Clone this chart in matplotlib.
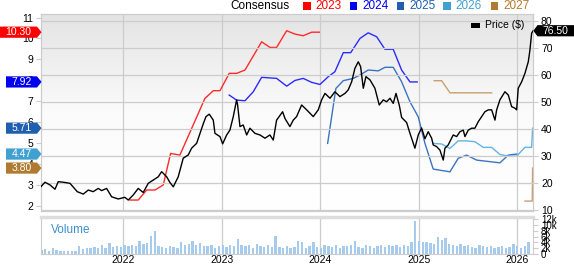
import numpy as np
import matplotlib
matplotlib.use('Agg')
import matplotlib.pyplot as plt
from matplotlib.colors import LinearSegmentedColormap
from matplotlib.patches import Rectangle, Polygon

plt.rcParams['font.family'] = ['Liberation Sans', 'DejaVu Sans']

# Price ($), decimal year -> close
price_t = [2021.164, 2021.205, 2021.256, 2021.307, 2021.340, 2021.391, 2021.459, 2021.533,
           2021.594, 2021.645, 2021.695, 2021.746, 2021.781, 2021.831, 2021.882, 2021.949,
           2022.017, 2022.051, 2022.102, 2022.152, 2022.203, 2022.254, 2022.305, 2022.355,
           2022.390, 2022.441, 2022.474, 2022.508, 2022.558, 2022.609, 2022.660, 2022.694,
           2022.745, 2022.779, 2022.812, 2022.840, 2022.873, 2022.914, 2022.931, 2022.982,
           2023.009, 2023.050, 2023.083, 2023.117, 2023.151, 2023.161, 2023.185, 2023.218,
           2023.253, 2023.286, 2023.337, 2023.388, 2023.439, 2023.489, 2023.523, 2023.557,
           2023.618, 2023.642, 2023.692, 2023.726, 2023.760, 2023.811, 2023.862, 2023.929,
           2023.980, 2024.014, 2024.048, 2024.099, 2024.149, 2024.200, 2024.251, 2024.284,
           2024.319, 2024.352, 2024.386, 2024.410, 2024.437, 2024.464, 2024.505, 2024.555,
           2024.599, 2024.640, 2024.674, 2024.708, 2024.741, 2024.769, 2024.802, 2024.826,
           2024.877, 2024.911, 2024.961, 2024.995, 2025.029, 2025.063, 2025.096, 2025.131,
           2025.147, 2025.181, 2025.215, 2025.249, 2025.266, 2025.299, 2025.334, 2025.350,
           2025.385, 2025.418, 2025.452, 2025.469, 2025.503, 2025.537, 2025.570, 2025.604,
           2025.639, 2025.672, 2025.706, 2025.740, 2025.774, 2025.791, 2025.824, 2025.875,
           2025.909, 2025.943, 2025.977, 2025.994, 2026.010, 2026.045, 2026.078, 2026.112,
           2026.129, 2026.146, 2026.162]
price = [18.7, 20.4, 19.4, 17.8, 20.6, 20.4, 20.0, 16.9,
         16.0, 17.5, 16.9, 18.1, 17.3, 18.1, 15.0, 14.2,
         14.8, 13.8, 15.7, 18.1, 16.6, 20.0, 21.2, 22.4,
         24.3, 22.4, 20.3, 18.7, 22.4, 29.3, 30.5, 33.0,
         34.8, 38.5, 42.0, 44.7, 45.6, 43.4, 38.5, 37.3,
         34.6, 37.9, 39.7, 44.7, 50.9, 49.0, 41.0, 41.6,
         37.9, 40.4, 38.5, 37.9, 36.7, 37.9, 36.0, 43.4,
         46.5, 44.0, 41.0, 43.4, 44.7, 49.0, 47.2, 44.7,
         47.2, 50.9, 53.3, 51.5, 53.9, 52.1, 53.3, 54.6,
         57.6, 62.6, 65.0, 63.2, 55.2, 59.5, 58.3, 55.2,
         49.0, 50.9, 50.2, 51.5, 49.6, 53.3, 49.0, 44.4,
         42.5, 38.5, 33.0, 37.9, 40.5, 36.5, 39.1, 36.7,
         34.2, 33.6, 32.3, 28.6, 33.0, 34.2, 36.7, 37.9,
         37.3, 39.1, 39.7, 37.3, 39.7, 40.4, 40.4, 42.8,
         44.7, 46.5, 47.2, 47.2, 43.4, 47.2, 50.9, 53.9,
         52.7, 48.4, 47.8, 47.2, 55.2, 57.6, 60.7, 65.0,
         69.4, 75.6, 76.5]

# Consensus EPS estimates by fiscal year
eps23_t = [2022.068, 2022.152, 2022.238, 2022.322, 2022.406, 2022.481, 2022.575, 2022.829,
           2022.914, 2022.982, 2023.076, 2023.151, 2023.236, 2023.405, 2023.489, 2023.557,
           2023.659, 2023.743, 2023.827, 2023.913, 2023.990]
eps23 = [2.27, 2.27, 2.75, 2.75, 2.99, 4.50, 4.42, 7.13,
         7.50, 7.50, 8.33, 8.33, 8.49, 9.84, 9.57, 9.57,
         10.37, 10.21, 10.13, 10.30, 10.30]

eps24_t = [2023.076, 2023.151, 2023.236, 2023.320, 2023.405, 2023.557, 2023.659, 2023.743,
           2023.827, 2023.913, 2023.997, 2024.081, 2024.149, 2024.234, 2024.309, 2024.403,
           2024.487, 2024.573, 2024.657, 2024.741, 2024.826, 2024.911, 2024.985]
eps24 = [7.29, 7.05, 7.02, 7.45, 8.14, 8.09, 7.72, 7.99,
         8.09, 7.90, 7.80, 8.17, 8.41, 9.32, 9.32, 10.00,
         10.27, 10.08, 9.48, 9.48, 8.49, 7.92, 7.92]

eps25_t = [2024.075, 2024.159, 2024.234, 2024.335, 2024.403, 2024.487, 2024.589, 2024.657,
           2024.741, 2024.826, 2024.911, 2024.995, 2025.063, 2025.147, 2025.317, 2025.401,
           2025.486, 2025.588, 2025.824, 2025.909, 2025.994]
eps25 = [4.98, 7.61, 7.98, 8.09, 8.25, 8.49, 8.45, 8.62,
         8.62, 7.93, 6.97, 6.25, 4.98, 3.75, 3.62, 4.27,
         4.42, 4.18, 4.05, 4.42, 4.47]

eps26_t = [2025.147, 2025.232, 2025.317, 2025.401, 2025.486, 2025.570, 2025.655, 2025.740,
           2025.824, 2025.909, 2025.994, 2026.078, 2026.146, 2026.156]
eps26 = [4.98, 4.95, 4.74, 5.10, 5.10, 5.06, 4.79, 4.79,
         4.45, 4.37, 4.37, 4.79, 4.79, 5.71]

eps27_t = [2025.157, 2025.232, 2025.317, 2025.401, 2025.740, 2025.800, 2026.078, 2026.152, 2026.156]
eps27 = [7.98, 7.98, 7.40, 7.40, 7.40, np.nan, 2.22, 2.22, 3.80]

# volume (thousands), one bar every two weeks from start
vol_start = 2021.17
vol_step = 14 / 365.25
volume = [1.4, 1.8, 1.2, 2.0, 1.5, 1.0, 1.2, 0.9, 1.0, 1.1,
          2.8, 1.8, 2.2, 2.0, 2.5, 2.0, 3.0, 2.2, 3.7, 2.5,
          2.8, 2.5, 3.0, 2.8, 3.2, 2.6, 4.6, 3.5, 3.8, 6.3,
          8.0, 2.8, 2.3, 2.0, 2.6, 2.4, 2.2, 4.0, 3.2, 3.5,
          4.5, 3.0, 3.8, 2.8, 2.6, 3.0, 2.2, 2.8, 3.0, 2.5,
          3.2, 2.6, 5.2, 3.0, 2.6, 3.2, 2.2, 3.4, 2.7, 2.5,
          3.0, 2.4, 6.3, 2.3, 2.0, 2.6, 2.2, 2.4, 4.5, 4.0,
          2.2, 2.8, 4.0, 2.5, 2.0, 3.2, 2.8, 2.5, 3.0, 2.2,
          2.6, 2.8, 3.0, 4.5, 2.5, 2.2, 3.0, 2.6, 2.0, 2.8,
          3.2, 2.4, 3.0, 2.6, 3.0, 2.4, 3.2, 2.8, 4.0, 11.5,
          4.5, 4.2, 4.0, 3.8, 3.5, 5.7, 4.8, 5.4, 3.5, 3.2,
          2.8, 3.5, 2.6, 3.0, 2.5, 2.2, 3.0, 2.6, 2.4, 2.8,
          2.2, 2.5, 2.8, 2.0, 2.4, 3.5, 2.8, 2.2, 2.6, 4.0]
vol_t = [vol_start + i * vol_step for i in range(len(volume))]

years = [2022, 2023, 2024, 2025, 2026]
series = [('2023', eps23_t, eps23, '#ff2a2a', '#ff0000'),
          ('2024', eps24_t, eps24, '#2a2aff', '#0000ee'),
          ('2025', eps25_t, eps25, '#3a74c0', '#1f5fad'),
          ('2026', eps26_t, eps26, '#62b4e2', '#40a0d0'),
          ('2027', eps27_t, eps27, '#c9a06a', '#b07a30')]
tag_vals = ['10.30', '7.92', '5.71', '4.47', '3.80']
last_price = '76.50'

W, H = 574, 264
fig = plt.figure(figsize=(W / 100, H / 100), dpi=100)
ax = fig.add_axes([41 / W, 1 - 210.7 / H, (533.3 - 41) / W, (210.7 - 14) / H])
axv = fig.add_axes([41 / W, 1 - 254 / H, (533.3 - 41) / W, (254 - 217) / H])
ax2 = ax.twinx()

xlim = (2021.165, 2026.163)
grid_c = '#cccccc'

# gradient background
cmap = LinearSegmentedColormap.from_list('bg', ['#ffffff', '#fbfbfb', '#e4e4e4'])
ax.imshow(np.linspace(0, 1, 100)[:, None], extent=[0, 1, 0, 1], transform=ax.transAxes,
          origin='lower', aspect='auto', cmap=cmap, zorder=0)

for name, t, v, lc, tc in series:
    ax.plot(t, v, color=lc, lw=1.0, zorder=3)
ax2.plot(price_t, price, color='black', lw=1.0, zorder=4)

ax.set_xlim(*xlim)
ax.set_ylim(1.76, 11.17)
ax2.set_ylim(9.85, 82.7)
ax.set_xticks(years)
ax.set_xticklabels([])
ax.tick_params(axis='x', length=0)
ax.grid(axis='x', color=grid_c, lw=0.9)
ax.set_yticks(range(2, 12))
ax.tick_params(axis='y', labelsize=7.5, length=3.5, color=grid_c, pad=2)
ax2.set_yticks(range(10, 81, 10))
ax2.tick_params(axis='y', labelsize=7.5, length=3.5, color=grid_c, pad=2)
ax2.grid(axis='y', color=grid_c, lw=0.9)
for a in (ax, ax2):
    for s in a.spines.values():
        s.set_color(grid_c)

# volume panel
axv.bar(vol_t, volume, width=0.024, color='#a6cbec', zorder=2)
axv.set_xlim(*xlim)
axv.set_ylim(0, 12.76)
axv.set_xticks(years)
axv.set_xticklabels([str(y) for y in years], fontsize=7.5)
axv.tick_params(axis='x', length=0, pad=0.5)
axv.grid(axis='x', color=grid_c, lw=0.9)
axv.yaxis.tick_right()
axv.set_yticks(range(0, 13, 2))
axv.set_yticklabels(['0', '2k', '4k', '6k', '8k', '10k', '12k'], fontsize=7)
axv.tick_params(axis='y', length=3.5, color=grid_c, pad=2)
for k, s in axv.spines.items():
    s.set_color(grid_c)
axv.spines['top'].set_color('#dddddd')
axv.spines['top'].set_linewidth(2.5)
axv.text(0.021, 0.66, 'Volume', transform=axv.transAxes, fontsize=8.5,
         color='#3a8fd0', va='center', ha='left')


def value_tag(a, val, label, color, side):
    # pixel-sized flag pointing at the axis edge
    yp = a.transData.transform((xlim[0], val))[1]
    h = 5.6
    if side == 'left':
        x1 = 37.0
        x0 = x1 - (6 * len(label) + 7)
        tip = 41.5
        pts = [(x0, yp - h), (x1, yp - h), (tip, yp), (x1, yp + h), (x0, yp + h)]
    else:
        x0 = 537.5
        x1 = 574
        tip = 533.3
        pts = [(tip, yp), (x0, yp - h), (x1, yp - h), (x1, yp + h), (x0, yp + h)]
    poly = Polygon([(px / W, py / H) for px, py in pts], closed=True,
                   transform=fig.transFigure, fc=color, ec='none', zorder=10)
    fig.patches.append(poly)
    fig.text((x0 + x1) / 2 / W, yp / H, label, fontsize=7.5, color='white',
             ha='center', va='center', zorder=11)


for (name, t, v, lc, tc), lab in zip(series, tag_vals):
    value_tag(ax, float(lab), lab, tc, 'left')
value_tag(ax2, float(last_price), last_price, 'black', 'right')

# price legend inside plot
fig.patches.append(Rectangle((470.5 / W, 1 - 27.5 / H), 9 / W, 5 / H, transform=fig.transFigure,
                             fc='black', ec='none'))
fig.text(485 / W, 1 - 25 / H, 'Price ($)', fontsize=7.5, va='center', ha='left')

# consensus legend on top
fig.text(230 / W, 1 - 6 / H, 'Consensus', fontsize=8.5, va='center', ha='left')
leg_x = [303.3, 350, 396.7, 443.3, 490.7]
for (name, t, v, lc, tc), x in zip(series, leg_x):
    fig.patches.append(Rectangle((x / W, 1 - 9.5 / H), 7.3 / W, 7.3 / H,
                                 transform=fig.transFigure, fc=tc, ec='none'))
    fig.text((x + 12.5) / W, 1 - 6 / H, name, fontsize=8.5, color=tc, va='center', ha='left')

fig.savefig('out.png', dpi=100)
